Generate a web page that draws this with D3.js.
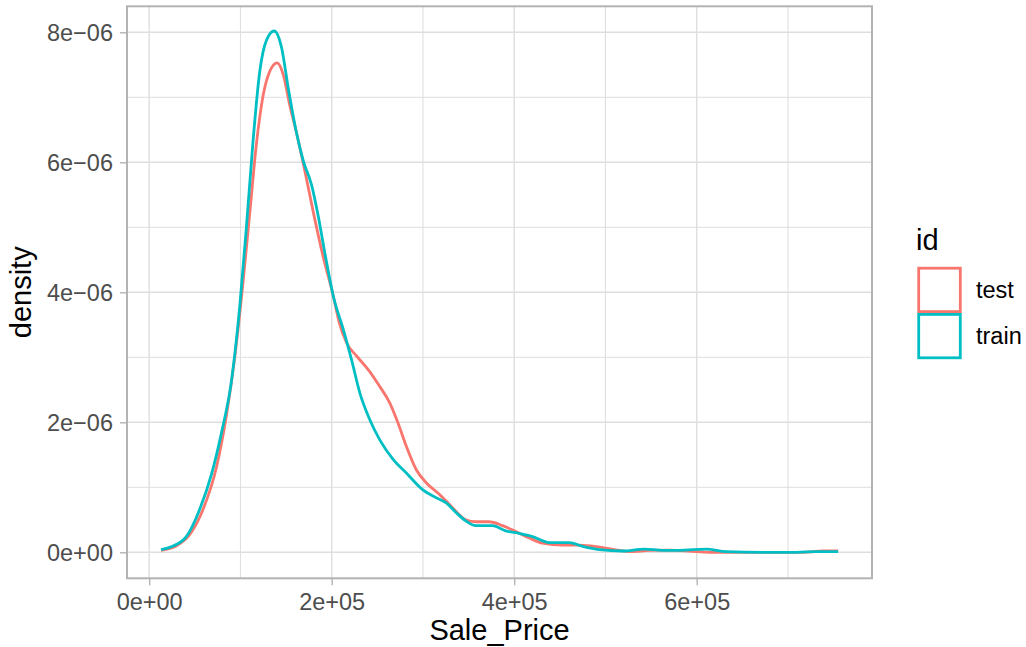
<!DOCTYPE html>
<html>
<head>
<meta charset="utf-8">
<script src="https://cdn.jsdelivr.net/npm/d3@7"></script>
<style>
  body { margin: 0; background: #fff; }
  svg { display: block; font-family: "Liberation Sans", Arial, sans-serif; }
</style>
</head>
<body>
<svg id="chart" width="1026" height="647"></svg>
<script>
// ---- data (Sale_Price in $, density in units of 1e-6) ----
const seriesNames = ["test", "train"];
const seriesColors = ["#F8766D", "#00BFC4"];

const testX = [13000, 30000, 44300, 59000, 73600, 84600, 93800, 102900, 110300, 117600, 124900, 132200, 140300, 146900, 154200, 161500, 170700, 179900, 190800, 201800, 208000, 216400, 227300, 240000, 252700, 263600, 272700, 281800, 292700, 303600, 318200, 332200, 346900, 357900, 372500, 387200, 401800, 416500, 431100, 453100, 471400, 493400, 515400, 526000, 548000, 570000, 599300, 617600, 672500, 716500, 738500, 755000];
const testY = [0.03, 0.10, 0.27, 0.66, 1.30, 2.10, 3.00, 4.16, 5.23, 6.29, 7.03, 7.40, 7.53, 7.35, 6.87, 6.45, 5.86, 5.23, 4.54, 3.94, 3.55, 3.22, 3.02, 2.81, 2.55, 2.30, 1.99, 1.63, 1.27, 1.07, 0.89, 0.69, 0.50, 0.47, 0.47, 0.41, 0.32, 0.22, 0.14, 0.11, 0.11, 0.08, 0.03, 0.01, 0.03, 0.035, 0.01, 0.0, 0.0, 0.0, 0.02, 0.02];

const trainX = [13000, 25000, 40700, 55300, 68100, 79100, 90100, 99300, 106600, 113900, 121200, 128600, 137000, 145000, 152400, 161500, 168900, 178000, 185300, 192700, 201800, 212700, 221800, 230900, 241800, 252700, 267300, 281800, 300000, 314500, 325500, 336400, 347300, 357900, 376200, 390800, 405500, 420100, 438500, 460400, 475100, 493400, 519000, 542500, 562600, 581000, 610300, 632200, 672500, 709200, 731100, 755000];
const trainY = [0.04, 0.09, 0.24, 0.66, 1.19, 1.83, 2.63, 3.79, 5.01, 6.34, 7.40, 7.88, 8.02, 7.77, 7.14, 6.45, 6.02, 5.65, 5.17, 4.59, 3.94, 3.43, 2.96, 2.45, 2.04, 1.73, 1.43, 1.22, 0.96, 0.84, 0.76, 0.61, 0.48, 0.41, 0.41, 0.33, 0.29, 0.24, 0.15, 0.15, 0.09, 0.04, 0.02, 0.05, 0.03, 0.03, 0.05, 0.01, 0.0, 0.0, 0.01, 0.01];

const xTicks = [0, 200000, 400000, 600000];
const xTickLabels = ["0e+00", "2e+05", "4e+05", "6e+05"];
const xMinor = [100000, 300000, 500000, 700000];
const yTicks = [0, 2, 4, 6, 8];
const yTickLabels = ["0e+00", "2e\u221206", "4e\u221206", "6e\u221206", "8e\u221206"];
const yMinor = [1, 3, 5, 7];

// ---- layout ----
const panel = { left: 127, right: 872, top: 6.3, bottom: 578.3 };
const svg = d3.select("#chart");

const x = d3.scaleLinear().domain([-24300, 792100]).range([panel.left, panel.right]);
const y = d3.scaleLinear().domain([-0.4, 8.4]).range([panel.bottom, panel.top]);

const gridCol = "#DEDEDE";
const g = svg.append("g");

// minor grid
g.selectAll(".xminor").data(xMinor).join("line")
  .attr("x1", d => x(d)).attr("x2", d => x(d))
  .attr("y1", panel.top).attr("y2", panel.bottom)
  .attr("stroke", gridCol).attr("stroke-width", 1);
g.selectAll(".yminor").data(yMinor).join("line")
  .attr("x1", panel.left).attr("x2", panel.right)
  .attr("y1", d => y(d)).attr("y2", d => y(d))
  .attr("stroke", gridCol).attr("stroke-width", 1);
// major grid
g.selectAll(".xmajor").data(xTicks).join("line")
  .attr("x1", d => x(d)).attr("x2", d => x(d))
  .attr("y1", panel.top).attr("y2", panel.bottom)
  .attr("stroke", gridCol).attr("stroke-width", 1.4);
g.selectAll(".ymajor").data(yTicks).join("line")
  .attr("x1", panel.left).attr("x2", panel.right)
  .attr("y1", d => y(d)).attr("y2", d => y(d))
  .attr("stroke", gridCol).attr("stroke-width", 1.4);

// curves
const line = d3.line().x(d => x(d[0])).y(d => y(d[1])).curve(d3.curveMonotoneX);
const series = [
  { name: "test", pts: d3.zip(testX, testY), color: seriesColors[0] },
  { name: "train", pts: d3.zip(trainX, trainY), color: seriesColors[1] }
];
svg.append("g").selectAll("path").data(series).join("path")
  .attr("d", d => line(d.pts))
  .attr("fill", "none")
  .attr("stroke", d => d.color)
  .attr("stroke-width", 2.8)
  .attr("stroke-linejoin", "round")
  .attr("stroke-linecap", "butt");

// panel border
svg.append("rect")
  .attr("x", panel.left).attr("y", panel.top)
  .attr("width", panel.right - panel.left).attr("height", panel.bottom - panel.top)
  .attr("fill", "none").attr("stroke", "#B3B3B3").attr("stroke-width", 2);

// axes (d3 axes, styled like ggplot)
const tickLen = 7;
const xAxis = d3.axisBottom(x).tickValues(xTicks)
  .tickFormat((d, i) => xTickLabels[i]).tickSize(tickLen).tickPadding(7);
const xa = svg.append("g").attr("transform", `translate(0,${panel.bottom})`).call(xAxis);
const yAxis = d3.axisLeft(y).tickValues(yTicks)
  .tickFormat((d, i) => yTickLabels[i]).tickSize(tickLen).tickPadding(7);
const ya = svg.append("g").attr("transform", `translate(${panel.left},0)`).call(yAxis);
[xa, ya].forEach(a => {
  a.select(".domain").remove();
  a.selectAll(".tick line").attr("stroke", "#B3B3B3").attr("stroke-width", 1.4);
  a.selectAll(".tick text").attr("fill", "#4D4D4D")
    .style("font-size", "23.5px").style("font-family", "'Liberation Sans', Arial, sans-serif");
});
xa.selectAll(".tick text").attr("dy", null).attr("y", 610 - panel.bottom);
ya.selectAll(".tick text").attr("x", -14).attr("dy", "0.35em");

// axis titles
svg.append("text").attr("x", (panel.left + panel.right) / 2).attr("y", 640)
  .attr("text-anchor", "middle").attr("fill", "#000").style("font-size", "29px")
  .text("Sale_Price");
svg.append("text")
  .attr("transform", `translate(31,${(panel.top + panel.bottom) / 2}) rotate(-90)`)
  .attr("text-anchor", "middle").attr("fill", "#000").style("font-size", "29px")
  .text("density");

// legend
const leg = svg.append("g");
leg.append("text").attr("x", 916).attr("y", 250).attr("fill", "#000")
  .style("font-size", "29px").text("id");
const keyTop = 266.8, keyH = 46.2;
seriesNames.forEach((name, i) => {
  const top = keyTop + i * keyH;
  leg.append("rect")
    .attr("x", 918.7).attr("y", top + 1.4)
    .attr("width", 41.6).attr("height", keyH - 2.8)
    .attr("fill", "none").attr("stroke", seriesColors[i]).attr("stroke-width", 2.8);
  leg.append("text").attr("x", 976).attr("y", top + keyH / 2).attr("dy", "0.35em")
    .attr("fill", "#000").style("font-size", "23.5px").text(name);
});
</script>
</body>
</html>
